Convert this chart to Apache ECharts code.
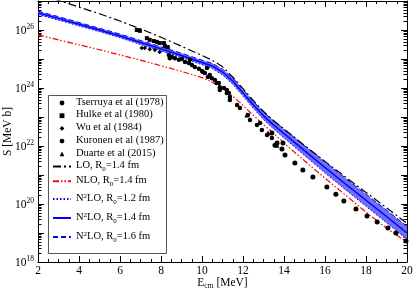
<!DOCTYPE html>
<html><head><meta charset="utf-8">
<script src="https://cdn.jsdelivr.net/npm/echarts@6/dist/echarts.min.js"></script>
<style>html,body{margin:0;padding:0;background:#fff}#c{width:415px;height:290px}</style>
</head><body><div id="c"></div>
<script>
// ---- data (E_cm in MeV, S as log10 of MeV b) ----
const energyGrid = [2,3,4,5,6,7,8,9,10,10.5,11,11.5,12,12.5,13,13.5,14,15,16,17,18,19,20];
const loLogS     = [27.24,27.02,26.79,26.56,26.31,26.04,25.75,25.44,25.12,24.96,24.73,24.38,23.98,23.57,23.19,22.87,22.59,22.02,21.47,20.93,20.40,19.87,19.33];
const nloLogS    = [25.83,25.66,25.49,25.32,25.14,24.96,24.77,24.57,24.36,24.20,23.98,23.72,23.40,23.06,22.74,22.43,22.10,21.49,20.89,20.31,19.72,19.17,18.68];
const n2loR14LogS= [26.59,26.40,26.20,26.00,25.79,25.57,25.35,25.12,24.88,24.76,24.55,24.24,23.83,23.42,23.04,22.72,22.43,21.84,21.26,20.69,20.13,19.57,19.00];
const n2loR16LogS= [26.65,26.46,26.26,26.06,25.86,25.64,25.42,25.20,24.96,24.85,24.65,24.35,23.94,23.54,23.17,22.86,22.58,22.01,21.45,20.89,20.34,19.79,19.23];
const n2loR12LogS= [26.53,26.34,26.14,25.94,25.73,25.50,25.28,25.05,24.80,24.67,24.45,24.13,23.72,23.30,22.91,22.58,22.28,21.67,21.07,20.49,19.92,19.35,18.77];

const tserruyaE = [8.38,8.53,8.43,8.68,8.87,9.02,9.17,9.36,9.41,9.51,9.65,9.85,10.0,10.04,10.14,10.24,10.29,10.38,10.48,10.63,10.72,10.82,10.87,10.87,11.07,11.21,11.21,11.31,11.36,11.36,11.71,11.85,12.24,12.34,12.68,12.83,12.92,13.17,13.41];
const tserruyaLogS = [25.14,25.07,25.03,25.03,24.97,25.0,24.90,24.86,24.97,24.79,24.72,24.66,24.59,24.55,24.52,24.69,24.38,24.45,24.34,24.28,24.17,24.17,24.03,23.93,24.0,23.93,23.83,23.83,23.69,23.59,23.41,23.31,23.07,22.90,22.72,22.79,22.55,22.38,22.28];
const hulkeE = [6.82,6.97,7.31,7.45,7.65,7.80,7.94,8.14,8.19,8.33];
const hulkeLogS = [26.0,25.97,25.72,25.66,25.62,25.59,25.55,25.55,25.45,25.41];
const wuE = [7.06,7.21,7.45,7.70,7.94];
const wuLogS = [25.38,25.38,25.34,25.31,25.24];
const kuronenE = [13.41,13.56,13.66,13.90,13.95,14.05,14.53,14.92,15.41,16.09,16.53,16.92,17.51,18.05,18.54,19.07,19.46,19.95];
const kuronenLogS = [22.45,22.03,22.10,21.90,22.10,21.69,21.41,21.17,20.93,20.59,20.34,20.10,19.83,19.59,19.38,19.17,19.0,18.72];
const duarteE = [12.19,13.22,13.66];
const duarteLogS = [23.07,22.45,22.03];

const xTickValues = [2,4,6,8,10,12,14,16,18,20];
const yDecades = [18,19,20,21,22,23,24,25,26,27];
const minorMultipliers = [2,3,4,5,6,7,8,9];

const names = {
  ts: 'Tserruya et al (1978)', hu: 'Hulke et al (1980)', wu: 'Wu et al (1984)',
  ku: 'Kuronen et al (1987)', du: 'Duarte et al (2015)',
  lo: 'LO, R0=1.4 fm', nlo: 'NLO, R0=1.4 fm',
  n12: 'N2LO, R0=1.2 fm', n14: 'N2LO, R0=1.4 fm', n16: 'N2LO, R0=1.6 fm'
};

const FONT = 'Liberation Serif';
const toS = v => Math.pow(10, v);
const curve = arr => energyGrid.map((e, i) => [e, toS(arr[i])]);
const pts = (es, ls) => es.map((e, i) => [e, toS(ls[i])]);

const minorTickData = [];
yDecades.slice(0, -1).forEach(d => minorMultipliers.forEach(m => minorTickData.push([xTickValues[0], m * toS(d)])));

function legendLabel(name) {
  const m = name.match(/^(N2LO|NLO|LO), R0=(.*)$/);
  if (!m) return '{t|' + name + '}';
  const head = m[1] === 'N2LO' ? '{t|N}{sup|2}{t|LO}' : '{t|' + m[1] + '}';
  return head + '{t|, R}{sub|0}{t|=' + m[2] + '}';
}
const legendRich = {
  t: {fontFamily: FONT, fontSize: 10.5, lineHeight: 13, color: '#000', verticalAlign: 'top'},
  sup: {fontFamily: FONT, fontSize: 7, lineHeight: 8, color: '#000', verticalAlign: 'top'},
  sub: {fontFamily: FONT, fontSize: 7, lineHeight: 8, color: '#000', verticalAlign: 'bottom'}
};
const hideSym = {itemStyle: {opacity: 0, color: 'transparent', borderWidth: 0}};

const chart = echarts.init(document.getElementById('c'), null, {renderer: 'canvas'});
const axisLine = {show: true, onZero: false, lineStyle: {color: '#000', width: 1}};

function dataLine(name, es, ls, symbol, size) {
  return {type: 'line', name: name, data: pts(es, ls), symbol: symbol, symbolSize: size,
    showSymbol: true, showAllSymbol: true, z: 5,
    lineStyle: {width: 0, opacity: 0}, itemStyle: {color: '#000'}};
}

const option = {
  animation: false,
  backgroundColor: '#fff',
  grid: {left: 38, right: 8, top: 1, bottom: 28, containLabel: false, outerBoundsMode: 'none'},
  graphic: [{
    type: 'rect', left: 48, top: 95, z: 3,
    shape: {width: 118, height: 158},
    style: {fill: '#fff', stroke: '#555', lineWidth: 1}
  }],
  legend: [{
    orient: 'vertical', left: 52, top: 96.5, padding: 0, itemGap: 1.7,
    itemWidth: 18, itemHeight: 6, selectedMode: false, z: 5,
    data: [names.ts, names.hu, names.wu, names.ku, names.du,
           Object.assign({name: names.lo}, hideSym), Object.assign({name: names.nlo}, hideSym)],
    formatter: legendLabel,
    textStyle: {rich: legendRich}
  }, {
    orient: 'vertical', left: 52, top: 192.5, padding: 0, itemGap: 6,
    itemWidth: 18, itemHeight: 6, selectedMode: false, z: 5,
    data: [Object.assign({name: names.n12}, hideSym), Object.assign({name: names.n14}, hideSym), Object.assign({name: names.n16}, hideSym)],
    formatter: legendLabel,
    textStyle: {rich: legendRich}
  }],
  xAxis: [{
    type: 'value', min: 2, max: 20, interval: 2, position: 'bottom',
    axisLine: axisLine,
    axisTick: {show: true, inside: true, length: 6, lineStyle: {color: '#000'}},
    minorTick: {show: true, splitNumber: 4, length: 3, lineStyle: {color: '#000'}},
    splitLine: {show: false},
    axisLabel: {margin: 3, fontFamily: FONT, fontSize: 11.5, color: '#000'},
    name: '{n|E}{sub|cm}{n| [MeV]}', nameLocation: 'middle', nameGap: 15, nameMoveOverlap: false,
    nameTextStyle: {rich: {
      n: {fontFamily: FONT, fontSize: 11.5, lineHeight: 13, color: '#000', verticalAlign: 'top'},
      sub: {fontFamily: FONT, fontSize: 7.5, lineHeight: 8, color: '#000', verticalAlign: 'bottom'}
    }}
  }, {
    type: 'value', min: 2, max: 20, interval: 2, position: 'top',
    axisLine: axisLine,
    axisTick: {show: true, inside: true, length: 6, lineStyle: {color: '#000'}},
    minorTick: {show: true, splitNumber: 4, length: 3, lineStyle: {color: '#000'}},
    splitLine: {show: false}, axisLabel: {show: false}
  }],
  yAxis: [{
    type: 'log', logBase: 10, min: 1e18, max: 1e27, interval: 1, position: 'left',
    axisLine: axisLine,
    axisTick: {show: true, inside: true, length: 6, lineStyle: {color: '#000'}},
    minorTick: {show: false}, splitLine: {show: false},
    axisLabel: {
      margin: 4,
      formatter: v => { const e = Math.round(Math.log10(v)); return e % 2 ? '' : '{b|10}{s|' + e + '}'; },
      rich: {
        b: {fontFamily: FONT, fontSize: 11.5, lineHeight: 13, color: '#000', verticalAlign: 'bottom'},
        s: {fontFamily: FONT, fontSize: 7.5, lineHeight: 8, color: '#000', verticalAlign: 'top'}
      }
    },
    name: 'S [MeV b]', nameLocation: 'middle', nameGap: 24, nameMoveOverlap: false,
    nameTextStyle: {fontFamily: FONT, fontSize: 11.5, color: '#000'}
  }, {
    type: 'log', logBase: 10, min: 1e18, max: 1e27, interval: 1, position: 'right',
    axisLine: axisLine,
    axisTick: {show: true, inside: true, length: 6, lineStyle: {color: '#000'}},
    minorTick: {show: false}, splitLine: {show: false}, axisLabel: {show: false}
  }],
  series: [
    {
      type: 'custom', name: 'minorTicks', silent: true, z: 1,
      data: minorTickData, encode: {x: 0, y: 1},
      renderItem: (params, api) => {
        const cs = params.coordSys;
        const y = Math.round(api.coord([api.value(0), api.value(1)])[1]) + 0.5;
        return {type: 'group', children: [
          {type: 'line', shape: {x1: cs.x, y1: y, x2: cs.x + 3.5, y2: y}, style: {stroke: '#000', lineWidth: 1}},
          {type: 'line', shape: {x1: cs.x + cs.width - 3.5, y1: y, x2: cs.x + cs.width, y2: y}, style: {stroke: '#000', lineWidth: 1}}
        ]};
      }
    },
    {
      type: 'custom', name: 'band', silent: true, z: 2,
      data: [[energyGrid[0], toS(n2loR14LogS[0])]], encode: {x: 0, y: 1},
      renderItem: (params, api) => {
        const poly = [];
        energyGrid.forEach((e, i) => poly.push(api.coord([e, toS(n2loR16LogS[i])])));
        for (let i = energyGrid.length - 1; i >= 0; i--) poly.push(api.coord([energyGrid[i], toS(n2loR12LogS[i])]));
        return {type: 'polygon', shape: {points: poly}, style: {fill: '#6f6ff5'}};
      }
    },
    {type: 'line', name: names.n12, data: curve(n2loR12LogS), symbol: 'none', z: 3,
     lineStyle: {color: '#0000ff', width: 1, type: [1.5, 2]}, itemStyle: {color: '#0000ff', opacity: 0}},
    {type: 'line', name: names.n16, data: curve(n2loR16LogS), symbol: 'none', z: 3,
     lineStyle: {color: '#0000ff', width: 1, type: [5, 3]}, itemStyle: {color: '#0000ff', opacity: 0}},
    {type: 'line', name: names.n14, data: curve(n2loR14LogS), symbol: 'none', z: 4,
     lineStyle: {color: '#0000ff', width: 1.5}, itemStyle: {color: '#0000ff', opacity: 0}},
    {type: 'line', name: names.lo, data: curve(loLogS), symbol: 'none', z: 4,
     lineStyle: {color: '#000', width: 1.2, type: [8, 3, 2, 3]}, itemStyle: {color: '#000', opacity: 0}},
    {type: 'line', name: names.nlo, data: curve(nloLogS), symbol: 'none', z: 4,
     lineStyle: {color: '#ff0000', width: 1.2, type: [6, 2, 1.5, 2, 1.5, 2]}, itemStyle: {color: '#ff0000', opacity: 0}},
    dataLine(names.ts, tserruyaE, tserruyaLogS, 'circle', 4.5),
    dataLine(names.hu, hulkeE, hulkeLogS, 'rect', 4),
    dataLine(names.wu, wuE, wuLogS, 'diamond', 4.5),
    dataLine(names.ku, kuronenE, kuronenLogS, 'circle', 5),
    dataLine(names.du, duarteE, duarteLogS, 'triangle', 5)
  ]
};
chart.setOption(option);
</script>
</body></html>
